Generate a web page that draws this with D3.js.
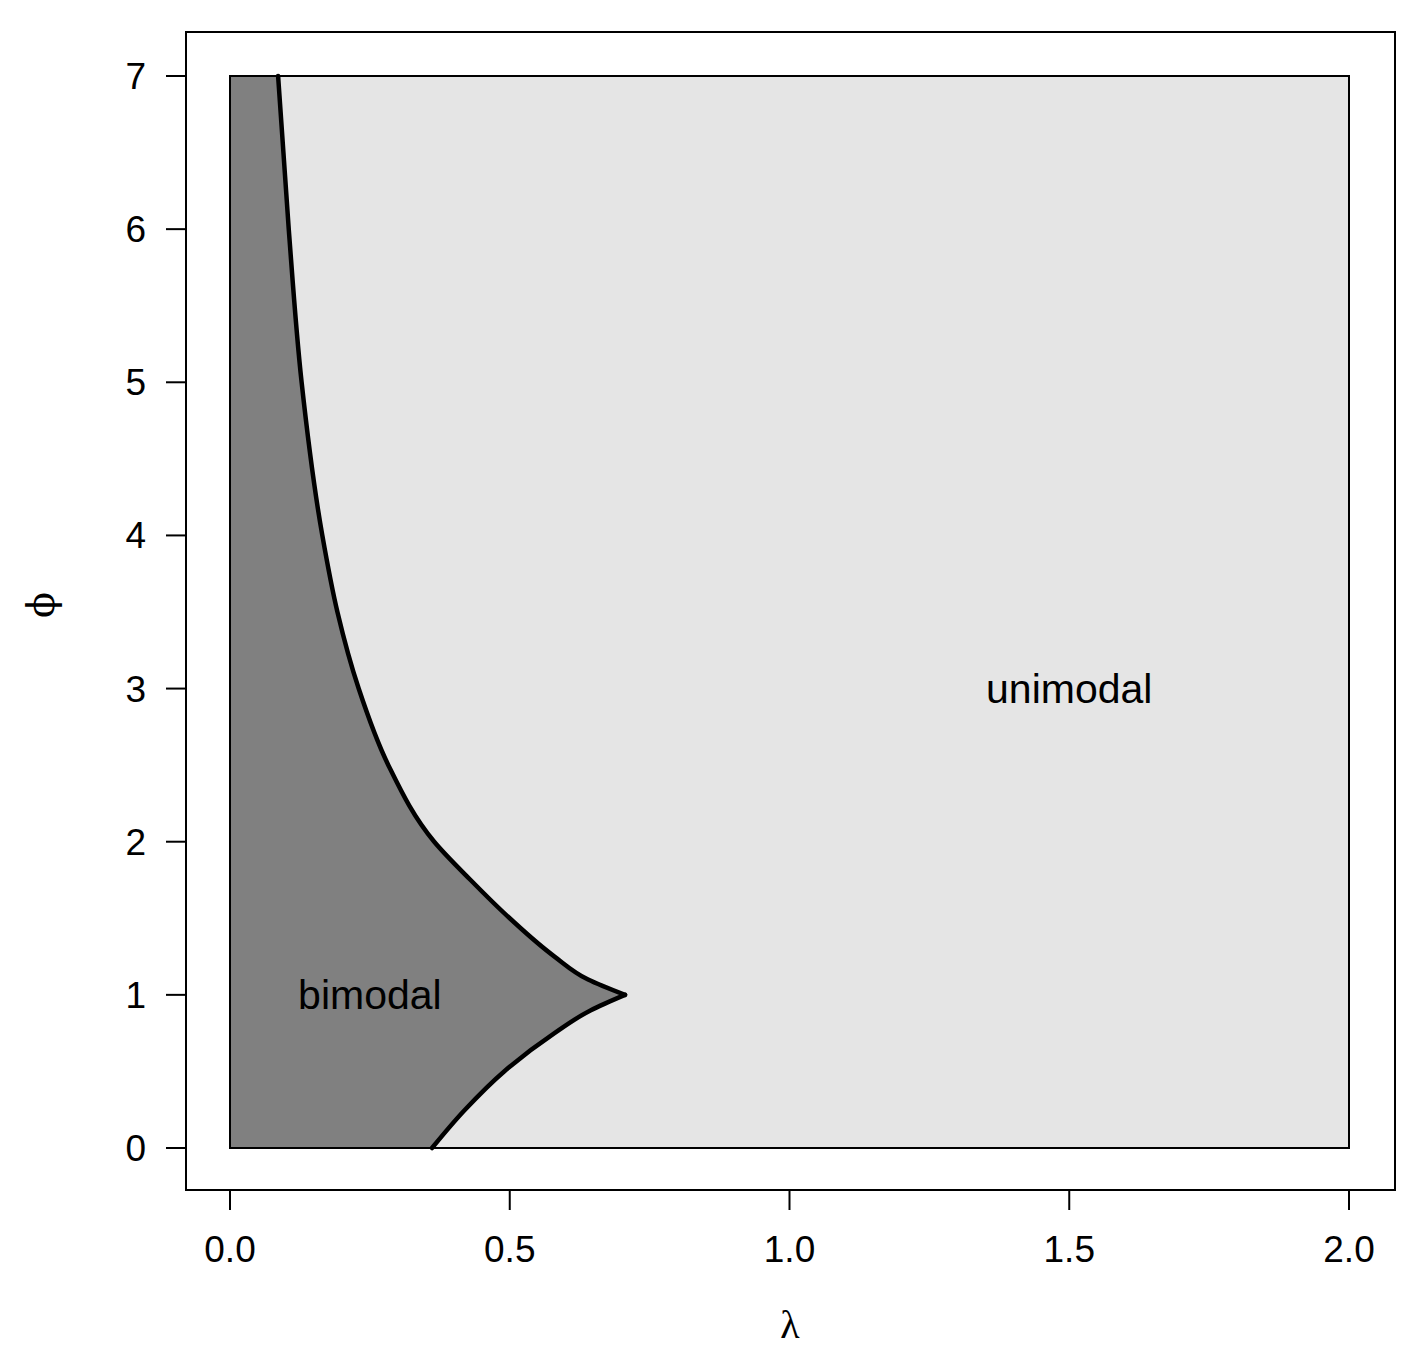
<!DOCTYPE html>
<html><head><meta charset="utf-8">
<script src="https://cdn.jsdelivr.net/npm/d3@7"></script>
<style>body{margin:0;background:#fff}</style></head>
<body><svg id="c" width="1419" height="1370"></svg>
<script>
const xTicks=[0,0.5,1,1.5,2];
const xTickLabels=["0.0","0.5","1.0","1.5","2.0"];
const yTicks=[0,1,2,3,4,5,6,7];
// boundary: lower branch (phi<1) and upper branch (phi>=1)
const lowerLambda=[0.361,0.42,0.49,0.58,0.645,0.706];
const lowerPhi=[0,0.25,0.5,0.75,0.9,1];
const upperLambda=[0.706,0.64,0.58,0.50,0.43,0.365,0.283,0.230,0.192,0.165,0.128,0.105,0.086];
const upperPhi=[1,1.1,1.25,1.5,1.75,2,2.5,3,3.5,4,5,6,7];
const labels=[{t:"unimodal",x:1.5,y:3},{t:"bimodal",x:0.25,y:1}];

const svg=d3.select("#c");
const x=d3.scaleLinear().domain([0,2]).range([230,1349]);
const y=d3.scaleLinear().domain([0,7]).range([1148,76]);
svg.append("rect").attr("x",x(0)).attr("y",y(7)).attr("width",x(2)-x(0)).attr("height",y(0)-y(7)).attr("fill","#e5e5e5");
const lower=lowerLambda.map((l,i)=>[l,lowerPhi[i]]);
const upper=upperLambda.map((l,i)=>[l,upperPhi[i]]);
const line=d3.line().x(d=>x(d[0])).y(d=>y(d[1])).curve(d3.curveMonotoneY);
const lp=line(lower), up=line(upper);
const fillPath="M"+x(0)+","+y(0)+"L"+lp.slice(1)+"L"+up.slice(1)+"L"+x(0)+","+y(7)+"Z";
svg.append("path").attr("d",fillPath).attr("fill","#808080");
[lp,up].forEach(p=>svg.append("path").attr("d",p).attr("fill","none").attr("stroke","#000").attr("stroke-width",4.5).attr("stroke-linecap","round"));
svg.append("rect").attr("x",x(0)).attr("y",y(7)).attr("width",x(2)-x(0)).attr("height",y(0)-y(7)).attr("fill","none").attr("stroke","#000").attr("stroke-width",2);
svg.append("rect").attr("x",186).attr("y",32).attr("width",1209).attr("height",1158).attr("fill","none").attr("stroke","#000").attr("stroke-width",2);
const f="Liberation Sans, Arial, sans-serif";
xTicks.forEach((t,i)=>{
 svg.append("line").attr("x1",x(t)).attr("x2",x(t)).attr("y1",1190).attr("y2",1210).attr("stroke","#000").attr("stroke-width",2);
 svg.append("text").attr("x",x(t)).attr("y",1262).attr("text-anchor","middle").attr("font-family",f).attr("font-size",37).text(xTickLabels[i]);
});
yTicks.forEach(t=>{
 svg.append("line").attr("x1",166).attr("x2",186).attr("y1",y(t)).attr("y2",y(t)).attr("stroke","#000").attr("stroke-width",2);
 svg.append("text").attr("x",146).attr("y",y(t)+13).attr("text-anchor","end").attr("font-family",f).attr("font-size",37).text(t);
});
svg.append("text").attr("x",790).attr("y",1338).attr("text-anchor","middle").attr("font-family","Liberation Serif, serif").attr("font-size",40).text("λ");
svg.append("text").attr("transform","translate(54,605) rotate(-90)").attr("text-anchor","middle").attr("font-family","DejaVu Serif, serif").attr("font-size",38).text("ϕ");
labels.forEach(d=>svg.append("text").attr("x",x(d.x)).attr("y",y(d.y)+14).attr("text-anchor","middle").attr("font-family",f).attr("font-size",41).text(d.t));
</script></body></html>
